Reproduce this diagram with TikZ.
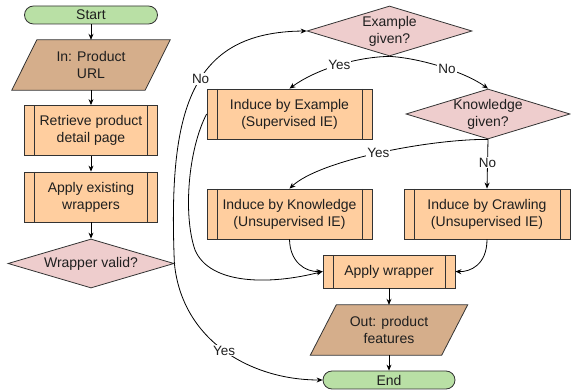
\documentclass[tikz,border=0pt]{standalone}
\usepackage{fontspec}
\setmainfont{Liberation Sans}
\usetikzlibrary{shapes.geometric,arrows.meta,calc,backgrounds}
\definecolor{termfill}{HTML}{B9E0A5}
\definecolor{procfill}{HTML}{FFCE9F}
\definecolor{iofill}{HTML}{D5AE8B}
\definecolor{decfill}{HTML}{EECDCD}
\definecolor{linecol}{HTML}{333333}
\begin{document}
\begin{tikzpicture}[x=1pt,y=-1pt,
  base/.style={draw=linecol, line width=0.8pt, font=\fontsize{14}{17}\selectfont, align=center, inner sep=0pt, text=black!88},
  term/.style={base, rounded corners=9pt, fill=termfill, minimum width=133pt, minimum height=18pt},
  procbox/.style={base, fill=procfill, minimum width=#1, minimum height=50pt,
    path picture={
      \draw[linecol, line width=0.8pt] ([xshift=10pt]path picture bounding box.north west) -- ([xshift=10pt]path picture bounding box.south west);
      \draw[linecol, line width=0.8pt] ([xshift=-10pt]path picture bounding box.north east) -- ([xshift=-10pt]path picture bounding box.south east);}},
  procbox/.default=133pt,
  iobox/.style={font=\fontsize{14}{17}\selectfont, align=center, inner sep=0pt, text=black!88, minimum width=#1, minimum height=50pt},
  iobox/.default=133pt,
  iopoly/.style={draw=linecol, line width=0.8pt, fill=iofill},
  decbox/.style={draw=linecol, line width=0.8pt, fill=decfill, diamond, inner sep=0pt, minimum width=#1, minimum height=50pt},
  dectext/.style={font=\fontsize{14}{17}\selectfont, align=center, text=black!88, inner sep=0pt},
  conn/.style={draw=black, line width=0.8pt, -{Stealth[length=6pt,width=5pt]}},
  elabel/.style={fill=white, inner sep=1pt, font=\fontsize{13.5}{15}\selectfont, text=black!88}
]
\useasboundingbox (0,0) rectangle (571,390);

% left column
\node[term] (start) at (91,15) {Start};
\node[iobox] (in) at (91,65) {In: Product\\URL};
\node[procbox] (ret) at (91,130.5) {Retrieve product\\detail page};
\node[procbox] (app) at (91,197) {Apply existing\\wrappers};
\node[decbox=166pt, minimum height=49pt] (wv) at (91,263.5) {};
\node[dectext] at (wv.center) {Wrapper valid?};

% right part
\node[decbox=165pt] (ex) at (389.5,31) {};
\node[dectext] at (ex.center) {Example\\given?};
\node[procbox=165pt] (ibe) at (289.5,114) {Induce by Example\\(Supervised IE)};
\node[decbox=164pt] (kg) at (488,114) {};
\node[dectext] at (kg.center) {Knowledge\\given?};
\node[procbox=165pt] (ikn) at (289.5,214) {Induce by Knowledge\\(Unsupervised IE)};
\node[procbox=166pt] (icr) at (487,214) {Induce by Crawling\\(Unsupervised IE)};
\node[procbox=132pt, minimum height=33pt] (aw) at (389,271.5) {Apply wrapper};
\node[iobox=131pt] (out) at (389,330) {Out: product\\features};
\node[term, minimum width=132pt] (end) at (389,380) {End};

\begin{scope}[on background layer]
  \path[iopoly] ($(in.south west)+(-12.5,0)$) -- ($(in.north west)+(12.5,0)$) -- ($(in.north east)+(12.5,0)$) -- ($(in.south east)+(-12.5,0)$) -- cycle;
  \path[iopoly] ($(out.south west)+(-13,0)$) -- ($(out.north west)+(13,0)$) -- ($(out.north east)+(13,0)$) -- ($(out.south east)+(-13,0)$) -- cycle;
\end{scope}

% straight connectors
\draw[conn] (start) -- (in);
\draw[conn] (in) -- (ret);
\draw[conn] (ret) -- (app);
\draw[conn] (app) -- (wv);
\draw[conn] (aw) -- (out);
\draw[conn] (out) -- (end);

% curved connectors
\draw[conn] (wv.east) .. controls (168,110) and (190,32) .. node[elabel, pos=0.55] {No} (ex.west);
\draw[conn] (wv.east) .. controls (182,340) and (250,380) .. node[elabel, pos=0.5] {Yes} (end.west);
\draw[conn] (ex.south) .. controls (355,57) and (315,70) .. node[elabel, pos=0.47] {Yes} (ibe.north);
\draw[conn] (ex.south) .. controls (420,58) and (465,72) .. node[elabel, pos=0.55] {No} (kg.north);
\draw[conn] (kg.south) .. controls (430,139) and (320,160) .. node[elabel, pos=0.5] {Yes} (ikn.north);
\draw[conn] (kg.south) -- node[elabel, pos=0.47] {No} (icr.north);
\coordinate (bend) at (195,250);
\draw[conn] (ibe.west) .. controls (188,150) and (183,215) .. (bend) .. controls (210,285) and (270,285) .. (aw.west);
\draw[conn] (ikn.south) .. controls (290,262) and (305,272) .. (aw.west);
\draw[conn] (icr.south) .. controls (487,265) and (470,272) .. (aw.east);
\end{tikzpicture}
\end{document}
